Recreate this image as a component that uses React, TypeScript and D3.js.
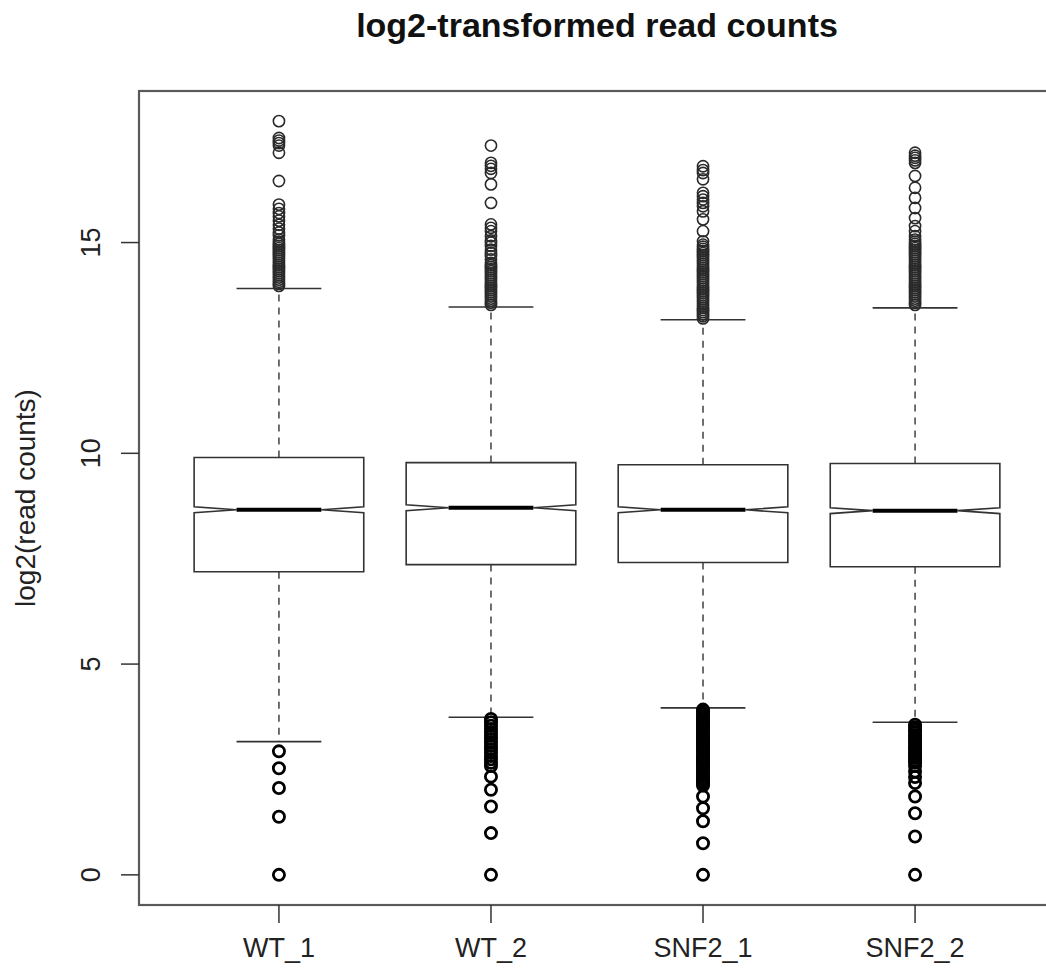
import React from "react";
import * as d3 from "d3";

const categories = ["WT_1", "WT_2", "SNF2_1", "SNF2_2"];
const q1 = [7.19, 7.36, 7.41, 7.31];
const medians = [8.66, 8.71, 8.66, 8.64];
const q3 = [9.9, 9.78, 9.73, 9.76];
const notchLo = [8.59, 8.64, 8.59, 8.57];
const notchHi = [8.73, 8.78, 8.73, 8.71];
const whiskerLo = [3.16, 3.74, 3.96, 3.62];
const whiskerHi = [13.91, 13.47, 13.17, 13.45];

const outliersWT1 = [
  17.88, 17.48, 17.42, 17.36, 17.3, 17.13, 16.46, 15.9, 15.8, 15.7, 15.62, 15.52, 15.42, 15.33, 15.24, 15.17,
  15.07, 15.02, 14.97, 14.92, 14.87, 14.82, 14.77, 14.72, 14.67, 14.62, 14.57, 14.52, 14.47, 14.42, 14.37,
  14.32, 14.27, 14.22, 14.17, 14.12, 14.07, 14.02, 13.97,
  2.93, 2.53, 2.06, 1.38, 0,
];
const outliersWT2 = [
  17.3, 16.89, 16.82, 16.75, 16.65, 16.38, 15.94, 15.43, 15.35, 15.27, 15.15, 15.05, 15.0, 14.92, 14.83,
  14.75, 14.68, 14.6, 14.52, 14.47, 14.42, 14.37, 14.32, 14.27, 14.22, 14.17, 14.12, 14.07, 14.02, 13.97,
  13.92, 13.87, 13.82, 13.77, 13.72, 13.67, 13.62, 13.57, 13.52,
  3.7, 3.62, 3.54, 3.46, 3.38, 3.3, 3.22, 3.14, 3.06, 2.98, 2.9, 2.82, 2.74, 2.66, 2.58, 2.33, 2.02, 1.62, 0.99, 0,
];
const outliersSNF1 = [
  16.81, 16.72, 16.65, 16.5, 16.18, 16.1, 16.02, 15.94, 15.86, 15.74, 15.55, 15.27, 15.03,
  14.95, 14.9, 14.85, 14.8, 14.75, 14.7, 14.65, 14.6, 14.55, 14.5, 14.45, 14.4, 14.35, 14.3, 14.25, 14.2,
  14.15, 14.1, 14.05, 14.0, 13.95, 13.9, 13.85, 13.8, 13.75, 13.7, 13.65, 13.6, 13.55, 13.5, 13.45, 13.4,
  13.35, 13.3, 13.25, 13.2,
  3.92, 3.87, 3.82, 3.77, 3.72, 3.67, 3.62, 3.57, 3.52, 3.47, 3.42, 3.37, 3.32, 3.27, 3.22, 3.17, 3.12,
  3.07, 3.02, 2.97, 2.92, 2.87, 2.82, 2.77, 2.72, 2.67, 2.62, 2.57, 2.52, 2.47, 2.42, 2.37, 2.32, 2.27,
  2.22, 2.17, 2.12, 1.86, 1.58, 1.27, 0.75, 0,
];
const outliersSNF2 = [
  17.13, 17.06, 17.01, 16.95, 16.89, 16.58, 16.3, 16.06, 15.82, 15.58, 15.39, 15.27, 15.15,
  15.07, 15.02, 14.97, 14.92, 14.87, 14.82, 14.77, 14.72, 14.67, 14.62, 14.57, 14.52, 14.47, 14.42, 14.37,
  14.32, 14.27, 14.22, 14.17, 14.12, 14.07, 14.02, 13.97, 13.92, 13.87, 13.82, 13.77, 13.72, 13.67, 13.62,
  13.57, 13.52,
  3.56, 3.5, 3.44, 3.38, 3.32, 3.26, 3.2, 3.14, 3.08, 3.02, 2.96, 2.9, 2.84, 2.78, 2.72, 2.66, 2.58, 2.45,
  2.32, 2.18, 1.86, 1.46, 0.91, 0,
];
const outliers = [outliersWT1, outliersWT2, outliersSNF1, outliersSNF2];
const yTicks = [0, 5, 10, 15];

const W = 1046;
const H = 972;
const plotL = 139;
const plotR = 1055;
const plotT = 91;
const plotB = 905;
const FONT = "'Liberation Sans', Arimo, Arial, Helvetica, sans-serif";

export default function App() {
  const allVals = outliers.flat();
  const ymin = Math.min(0, d3.min(allVals) as number);
  const ymax = d3.max(allVals) as number;
  const ext = (ymax - ymin) * 0.04;
  const y = d3.scaleLinear().domain([ymin - ext, ymax + ext]).range([plotB, plotT]);
  const n = categories.length;
  const xext = n * 0.04;
  const x = d3.scaleLinear().domain([0.5 - xext, n + 0.5 + xext]).range([plotL, plotR]);
  const halfW = x(1.4) - x(1);
  const stroke = "#333";

  return (
    <svg width={W} height={H} style={{ position: "absolute", left: 0, top: 0, background: "#fff" }} fontFamily={FONT}>
      <rect x={0} y={0} width={W} height={H} fill="#fff" />
      <text x={(plotL + plotR) / 2} y={37} textAnchor="middle" fontSize={34} fontWeight="bold" fill="#111">
        log2-transformed read counts
      </text>
      {categories.map((c, i) => {
        const cx = x(i + 1);
        const nf = 0.5;
        const pts: [number, number][] = [
          [cx - halfW, y(q1[i])],
          [cx + halfW, y(q1[i])],
          [cx + halfW, y(notchLo[i])],
          [cx + halfW * nf, y(medians[i])],
          [cx + halfW, y(notchHi[i])],
          [cx + halfW, y(q3[i])],
          [cx - halfW, y(q3[i])],
          [cx - halfW, y(notchHi[i])],
          [cx - halfW * nf, y(medians[i])],
          [cx - halfW, y(notchLo[i])],
        ];
        const poly = d3.line()(pts) + "Z";
        const staple = halfW * 0.5;
        return (
          <g key={c}>
            <line x1={cx} x2={cx} y1={y(q3[i])} y2={y(whiskerHi[i])} stroke={stroke} strokeWidth={1.4} strokeDasharray="7,6" />
            <line x1={cx} x2={cx} y1={y(q1[i])} y2={y(whiskerLo[i])} stroke={stroke} strokeWidth={1.4} strokeDasharray="7,6" />
            <line x1={cx - staple} x2={cx + staple} y1={y(whiskerHi[i])} y2={y(whiskerHi[i])} stroke={stroke} strokeWidth={1.6} />
            <line x1={cx - staple} x2={cx + staple} y1={y(whiskerLo[i])} y2={y(whiskerLo[i])} stroke={stroke} strokeWidth={1.6} />
            <path d={poly} fill="none" stroke={stroke} strokeWidth={1.6} />
            <line x1={cx - halfW * nf} x2={cx + halfW * nf} y1={y(medians[i])} y2={y(medians[i])} stroke="#000" strokeWidth={4} />
            {outliers[i].map((v, j) => (
              <circle
                key={j}
                cx={cx}
                cy={y(v)}
                r={5.6}
                fill="none"
                stroke={v < q1[i] ? "#000" : "#2a2a2a"}
                strokeWidth={v < q1[i] ? 2.8 : 1.6}
              />
            ))}
          </g>
        );
      })}
      <rect x={plotL} y={plotT} width={plotR - plotL} height={plotB - plotT} fill="none" stroke="#5a5a5a" strokeWidth={2.2} />
      {yTicks.map((t) => (
        <g key={t}>
          <line x1={plotL} x2={plotL - 18} y1={y(t)} y2={y(t)} stroke="#333" strokeWidth={1.5} />
          <text
            transform={`translate(100,${y(t)}) rotate(-90)`}
            textAnchor="middle"
            fontSize={27}
            fill="#222"
          >
            {t}
          </text>
        </g>
      ))}
      {categories.map((c, i) => (
        <g key={c}>
          <line x1={x(i + 1)} x2={x(i + 1)} y1={plotB} y2={plotB + 18} stroke="#333" strokeWidth={1.5} />
          <text x={x(i + 1)} y={957} textAnchor="middle" fontSize={27} fill="#222">
            {c}
          </text>
        </g>
      ))}
      <text transform={`translate(35,${(plotT + plotB) / 2}) rotate(-90)`} textAnchor="middle" fontSize={28} fill="#222">
        log2(read counts)
      </text>
    </svg>
  );
}
